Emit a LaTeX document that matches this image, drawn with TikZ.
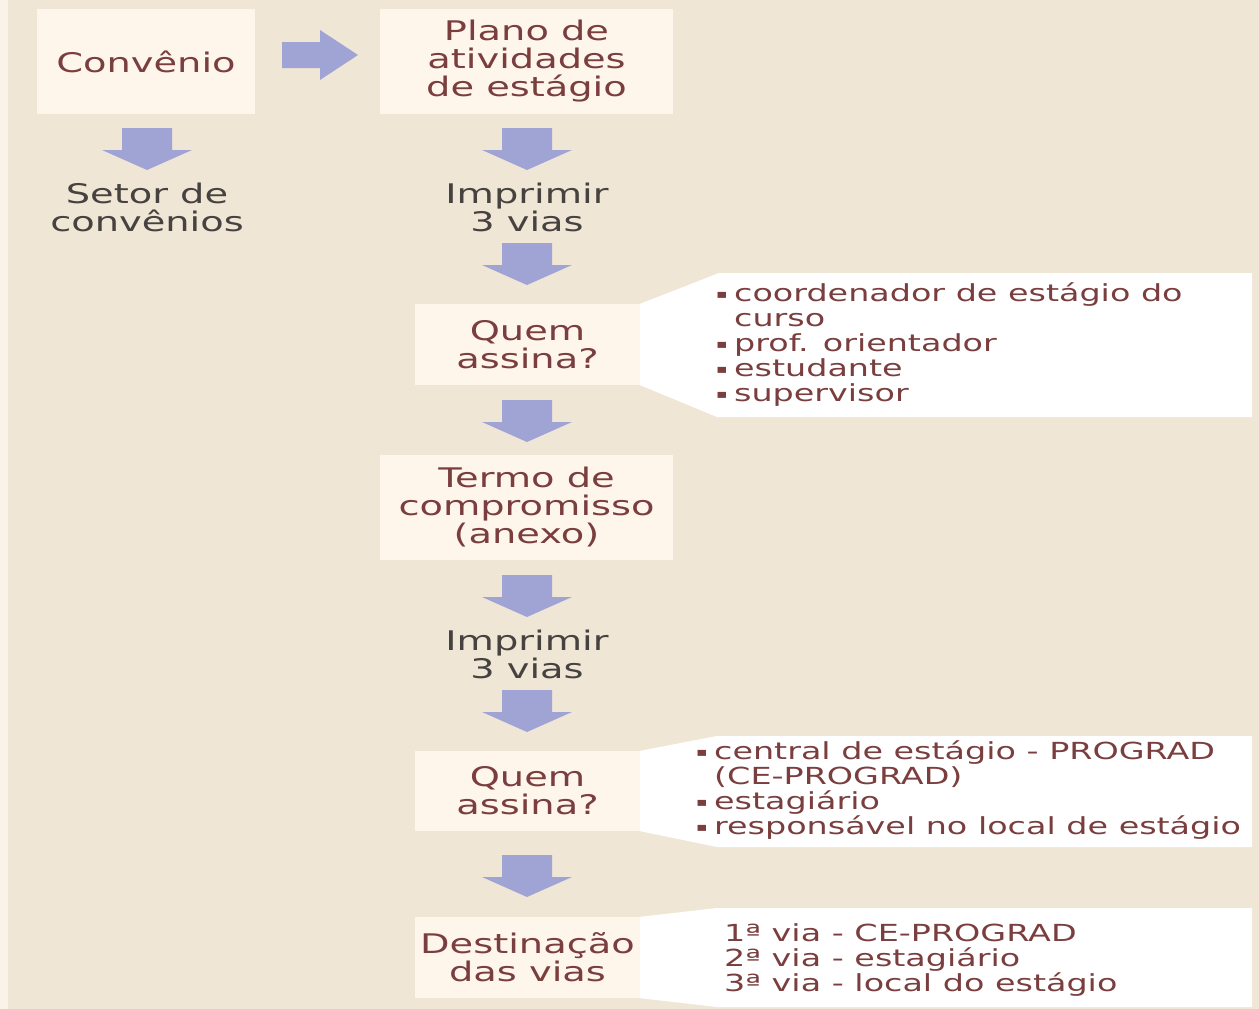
\documentclass[tikz,border=0pt]{standalone}
\usepackage{fontspec}
\setmainfont{DejaVu Sans}[FakeStretch=1.42]
\definecolor{bg}{RGB}{240,230,214}
\definecolor{strip}{RGB}{252,243,232}
\definecolor{boxc}{RGB}{254,246,235}
\definecolor{arr}{RGB}{160,164,212}
\definecolor{txt}{RGB}{122,62,62}
\definecolor{gtxt}{RGB}{70,66,64}
\newcommand\bul{\makebox[18pt][l]{\raisebox{3pt}{\fontsize{12}{12}\selectfont ▪}}}
\newcommand\downarr[1]{\fill[arr] ($(#1)+(-25,0)$) -- ++(50,0) -- ++(0,22) -- ++(20,0) -- ($(#1)+(0,42)$) -- ($(#1)+(-45,22)$) -- ++(20,0) -- cycle;}
\usetikzlibrary{calc}
\begin{document}
\begin{tikzpicture}[x=1pt,y=-1pt,
  boxstyle/.style={fill=boxc, draw=none, inner sep=0pt, text=txt, align=center,
     font=\fontsize{27}{28}\selectfont},
  plain/.style={inner sep=0pt, align=center, text=gtxt, font=\fontsize{27}{28}\selectfont},
  calltext/.style={inner sep=0pt, align=left, anchor=west, text=txt, font=\fontsize{23.5}{25}\selectfont},
  callout/.style={fill=white, draw=none}]
\useasboundingbox (0,0) rectangle (1259,1009);
\fill[bg] (0,0) rectangle (1259,1009);
\fill[strip] (0,0) rectangle (8,1009);

% boxes
\node[boxstyle, minimum width=218, minimum height=105] (conv) at (146,61.5) {Convênio};
\node[boxstyle, minimum width=293, minimum height=105] (plano) at (526.5,61.5) {Plano de\\atividades\\de estágio};
\node[plain] (setor) at (147,207) {Setor de\\convênios};
\node[plain] (imp1) at (527,207) {Imprimir\\3 vias};
\node[boxstyle, minimum width=225, minimum height=81] (quem1) at (527.5,344.5) {Quem\\assina?};
\node[boxstyle, minimum width=293, minimum height=105] (termo) at (526.5,507.5) {Termo de\\compromisso\\(anexo)};
\node[plain] (imp2) at (527,654) {Imprimir\\3 vias};
\node[boxstyle, minimum width=225, minimum height=80] (quem2) at (527.5,791) {Quem\\assina?};
\node[boxstyle, minimum width=225, minimum height=81] (dest) at (527.5,957.5) {Destinação\\das vias};

% callouts
\fill[callout] (quem1.north east) -- (719,273) -- (1252,273) -- (1252,417) -- (717,417) -- (quem1.south east) -- cycle;
\fill[callout] (quem2.north east) -- (717,736) -- (1252,736) -- (1252,847) -- (717,847) -- (quem2.south east) -- cycle;
\fill[callout] (dest.north east) -- (717,908) -- (1252,908) -- (1252,1007) -- (717,1007) -- (dest.south east) -- cycle;

\node[calltext] (c1) at (716,345) {\bul coordenador de estágio do\\\hspace*{18pt}curso\\\bul prof. orientador\\\bul estudante\\\bul supervisor};
\node[calltext] (c2) at (696,790) {\bul central de estágio - PROGRAD\\\hspace*{18pt}(CE-PROGRAD)\\\bul estagiário\\\bul responsável no local de estágio};
\node[calltext] (c3) at (724,960) {1ª via - CE-PROGRAD\\2ª via - estagiário\\3ª via - local do estágio};

% block arrows
\fill[arr] (282,42) -- (320,42) -- (320,30) -- (358,55) -- (320,80) -- (320,68) -- (282,68) -- cycle;
\coordinate (a1) at (147,128);
\coordinate (a2) at (527,128);
\coordinate (a3) at (527,243);
\coordinate (a4) at (527,400);
\coordinate (a5) at (527,575);
\coordinate (a6) at (527,690);
\coordinate (a7) at (527,855);
\downarr{a1}\downarr{a2}\downarr{a3}\downarr{a4}\downarr{a5}\downarr{a6}\downarr{a7}
\end{tikzpicture}
\end{document}
